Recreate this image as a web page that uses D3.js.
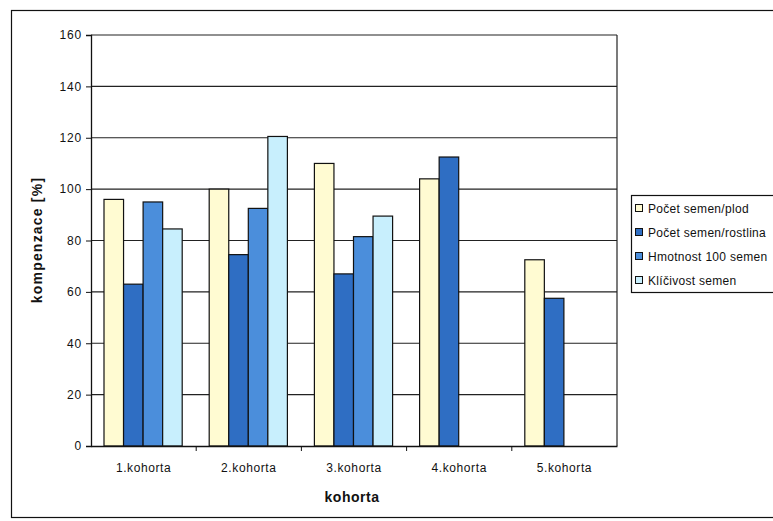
<!DOCTYPE html>
<html>
<head>
<meta charset="utf-8">
<script src="https://cdn.jsdelivr.net/npm/d3@7"></script>
<style>
  html, body { margin: 0; padding: 0; background: #fff; }
  svg { display: block; font-family: Arial, "Liberation Sans", sans-serif; }
</style>
</head>
<body>
<svg id="chart" width="773" height="521"></svg>
<script>
// Cohorts on the x axis
const categories = ["1.kohorta", "2.kohorta", "3.kohorta", "4.kohorta", "5.kohorta"];

// Series names (legend order)
const seriesNames = ["Počet semen/plod", "Počet semen/rostlina", "Hmotnost 100 semen", "Klíčivost semen"];

// Compensation values [%] per series, one entry per cohort (null = no bar)
const pocetSemenPlod      = [96, 100, 110, 104, 72.5];
const pocetSemenRostlina  = [63, 74.5, 67, 112.5, 57.5];
const hmotnost100Semen    = [95, 92.5, 81.5, null, null];
const klicivostSemen      = [84.5, 120.5, 89.5, null, null];

const yTicks = [0, 20, 40, 60, 80, 100, 120, 140, 160];

const seriesValues = [pocetSemenPlod, pocetSemenRostlina, hmotnost100Semen, klicivostSemen];
const colors = ["#FFFBD2", "#2F6EC3", "#4B8EDB", "#C8EFFD"];

const svg = d3.select("#chart");

// outer chart frame
svg.append("rect")
  .attr("x", 11.5).attr("y", 10.5)
  .attr("width", 790).attr("height", 507)
  .attr("fill", "none").attr("stroke", "#111").attr("stroke-width", 1.2);

const plot = { left: 91, right: 617, top: 35, bottom: 446 };

const x = d3.scaleBand()
  .domain(categories)
  .range([plot.left, plot.right])
  .paddingInner(0).paddingOuter(0);

const inner = d3.scaleBand()
  .domain(d3.range(seriesNames.length))
  .range([13, x.bandwidth() - 14]);

const y = d3.scaleLinear().domain([0, 160]).range([plot.bottom, plot.top]);

// horizontal gridlines
svg.append("g")
  .selectAll("line")
  .data(yTicks.filter(t => t > 0))
  .join("line")
  .attr("x1", plot.left).attr("x2", plot.right)
  .attr("y1", d => y(d)).attr("y2", d => y(d))
  .attr("stroke", "#222").attr("stroke-width", 1.2);

// right border of plot area
svg.append("line")
  .attr("x1", plot.right).attr("x2", plot.right)
  .attr("y1", plot.top).attr("y2", plot.bottom)
  .attr("stroke", "#222").attr("stroke-width", 1.2);

// bars
const bars = [];
seriesValues.forEach((vals, si) => {
  vals.forEach((v, ci) => {
    if (v != null) bars.push({ si, cat: categories[ci], v });
  });
});

svg.append("g")
  .selectAll("rect")
  .data(bars)
  .join("rect")
  .attr("x", d => x(d.cat) + inner(d.si))
  .attr("y", d => y(d.v))
  .attr("width", inner.bandwidth())
  .attr("height", d => y(0) - y(d.v))
  .attr("fill", d => colors[d.si])
  .attr("stroke", "#111")
  .attr("stroke-width", 1.2);

// y axis
const yAxis = svg.append("g")
  .attr("transform", `translate(${plot.left},0)`)
  .call(d3.axisLeft(y).tickValues(yTicks).tickSize(5).tickPadding(4));
yAxis.select(".domain").attr("stroke", "#111").attr("stroke-width", 1.3);
yAxis.selectAll(".tick line").attr("stroke", "#111");
yAxis.selectAll(".tick text").attr("font-size", 12).attr("fill", "#111")
  .attr("letter-spacing", 0.8)
  .attr("font-family", "Arial, 'Liberation Sans', sans-serif");

// x axis: tick marks on category boundaries
const xAxis = svg.append("g")
  .attr("transform", `translate(0,${plot.bottom})`)
  .call(d3.axisBottom(x).tickSize(0).tickPadding(17));
xAxis.select(".domain").attr("stroke", "#111").attr("stroke-width", 1.3);
xAxis.selectAll(".tick text").attr("font-size", 12).attr("fill", "#111")
  .attr("letter-spacing", 0.6)
  .attr("font-family", "Arial, 'Liberation Sans', sans-serif");
xAxis.append("g")
  .selectAll("line")
  .data(categories.slice(1))
  .join("line")
  .attr("x1", d => x(d)).attr("x2", d => x(d))
  .attr("y1", 0).attr("y2", 5)
  .attr("stroke", "#111");

// axis titles
svg.append("text")
  .attr("x", 352).attr("y", 502)
  .attr("text-anchor", "middle")
  .attr("font-size", 14).attr("font-weight", "bold").attr("fill", "#111")
  .attr("letter-spacing", 0.5)
  .text("kohorta");

svg.append("text")
  .attr("transform", "translate(42,240) rotate(-90)")
  .attr("text-anchor", "middle")
  .attr("font-size", 14).attr("font-weight", "bold").attr("fill", "#111")
  .attr("letter-spacing", 1.2)
  .text("kompenzace [%]");

// legend
const legend = svg.append("g").attr("transform", "translate(631,195)");
legend.append("rect")
  .attr("x", 0.5).attr("y", 0.5).attr("width", 160).attr("height", 97)
  .attr("fill", "#fff").attr("stroke", "#111").attr("stroke-width", 1.2);
const item = legend.selectAll("g.item")
  .data(seriesNames)
  .join("g")
  .attr("class", "item")
  .attr("transform", (d, i) => `translate(0,${13 + i * 24})`);
item.append("rect")
  .attr("x", 4.5).attr("y", -3.5).attr("width", 7).attr("height", 7)
  .attr("fill", (d, i) => colors[i]).attr("stroke", "#111").attr("stroke-width", 1);
item.append("text")
  .attr("x", 17).attr("y", 4.5)
  .attr("font-size", 12).attr("fill", "#111")
  .attr("letter-spacing", 0.3)
  .text(d => d);
</script>
</body>
</html>
